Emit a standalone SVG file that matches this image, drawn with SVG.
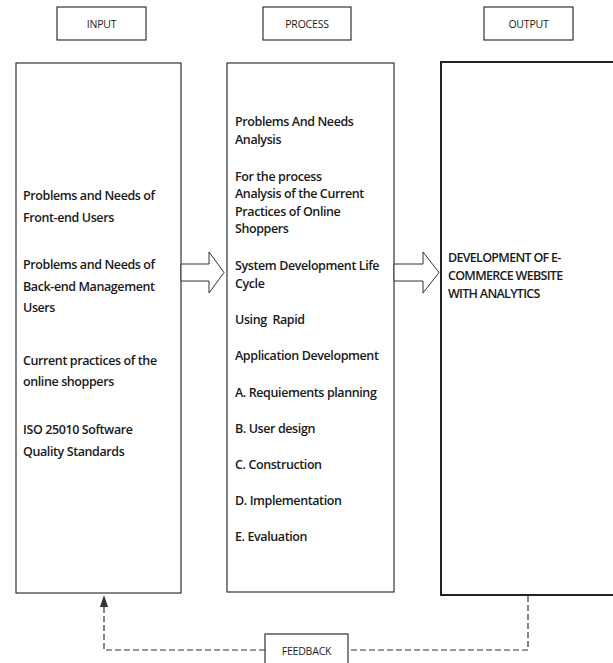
<svg xmlns="http://www.w3.org/2000/svg" width="613" height="663" viewBox="0 0 613 663">
<defs>
<style>
.box{fill:#fff;stroke:#333;stroke-width:1.2}
.obox{fill:#fff;stroke:#222;stroke-width:2}
.lbl{font-family:"Open Sans","Noto Sans",sans-serif;font-size:10.5px;font-weight:500;fill:#1a1a1a;text-anchor:middle;letter-spacing:-0.2px}
.t{font-family:"Open Sans","Noto Sans",sans-serif;font-size:12.5px;font-weight:600;fill:#1a1a1a;letter-spacing:-0.4px}
.up{letter-spacing:-0.7px}
.dash{fill:none;stroke:#333;stroke-width:1.2;stroke-dasharray:6 3}
.barrow{fill:#fff;stroke:#333;stroke-width:1}
</style>
<marker id="ah" markerWidth="12" markerHeight="8" refX="12" refY="4" orient="auto" markerUnits="userSpaceOnUse" viewBox="0 0 12 8">
<path d="M0,0 L12,4 L0,8 Z" fill="#333"/>
</marker>
</defs>
<rect width="613" height="663" fill="#fff"/>

<g id="label-input">
<rect class="box" x="57" y="7" width="89" height="33"/>
<text class="lbl" x="101.5" y="28">INPUT</text>
</g>
<g id="label-process">
<rect class="box" x="263" y="7" width="88" height="33"/>
<text class="lbl" x="307" y="28">PROCESS</text>
</g>
<g id="label-output">
<rect class="box" x="484" y="7" width="89" height="33"/>
<text class="lbl" x="528.5" y="28">OUTPUT</text>
</g>

<g id="input">
<rect class="box" x="16" y="63" width="165" height="530"/>
<text class="t" x="23" y="200">Problems and Needs of</text>
<text class="t" x="23" y="222">Front-end Users</text>
<text class="t" x="23" y="269">Problems and Needs of</text>
<text class="t" x="23" y="291">Back-end Management</text>
<text class="t" x="23" y="312">Users</text>
<text class="t" x="23" y="365">Current practices of the</text>
<text class="t" x="23" y="386">online shoppers</text>
<text class="t" x="23" y="434">ISO 25010 Software</text>
<text class="t" x="23" y="456">Quality Standards</text>
</g>

<g id="process">
<rect class="box" x="227" y="63" width="167" height="529"/>
<text class="t" x="235" y="126">Problems And Needs</text>
<text class="t" x="235" y="144">Analysis</text>
<text class="t" x="235" y="181">For the process</text>
<text class="t" x="235" y="198">Analysis of the Current</text>
<text class="t" x="235" y="216">Practices of Online</text>
<text class="t" x="235" y="233">Shoppers</text>
<text class="t" x="235" y="270">System Development Life</text>
<text class="t" x="235" y="288">Cycle</text>
<text class="t" x="235" y="324" xml:space="preserve">Using  Rapid</text>
<text class="t" x="235" y="360">Application Development</text>
<text class="t" x="235" y="397">A. Requiements planning</text>
<text class="t" x="235" y="433">B. User design</text>
<text class="t" x="235" y="469">C. Construction</text>
<text class="t" x="235" y="505">D. Implementation</text>
<text class="t" x="235" y="541">E. Evaluation</text>
</g>

<g id="output">
<rect class="obox" x="441" y="62" width="180" height="533"/>
<text class="t up" x="448" y="262">DEVELOPMENT OF E-</text>
<text class="t up" x="448" y="280">COMMERCE WEBSITE</text>
<text class="t up" x="448" y="298">WITH ANALYTICS</text>
</g>

<g id="feedback">
<rect class="box" x="265" y="634" width="83" height="40"/>
<text class="lbl" x="306.5" y="655">FEEDBACK</text>
</g>

<g id="connectors">
<polygon class="barrow" points="181,264 209,264 209,252 224,272.5 209,293 209,281 181,281"/>
<polygon class="barrow" points="394,264 423,264 423,252 439,272.5 423,293 423,281 394,281"/>
<path class="dash" d="M528,596 V650 H348"/>
<path class="dash" d="M265,650 H104 V595" marker-end="url(#ah)"/>
</g>
</svg>
